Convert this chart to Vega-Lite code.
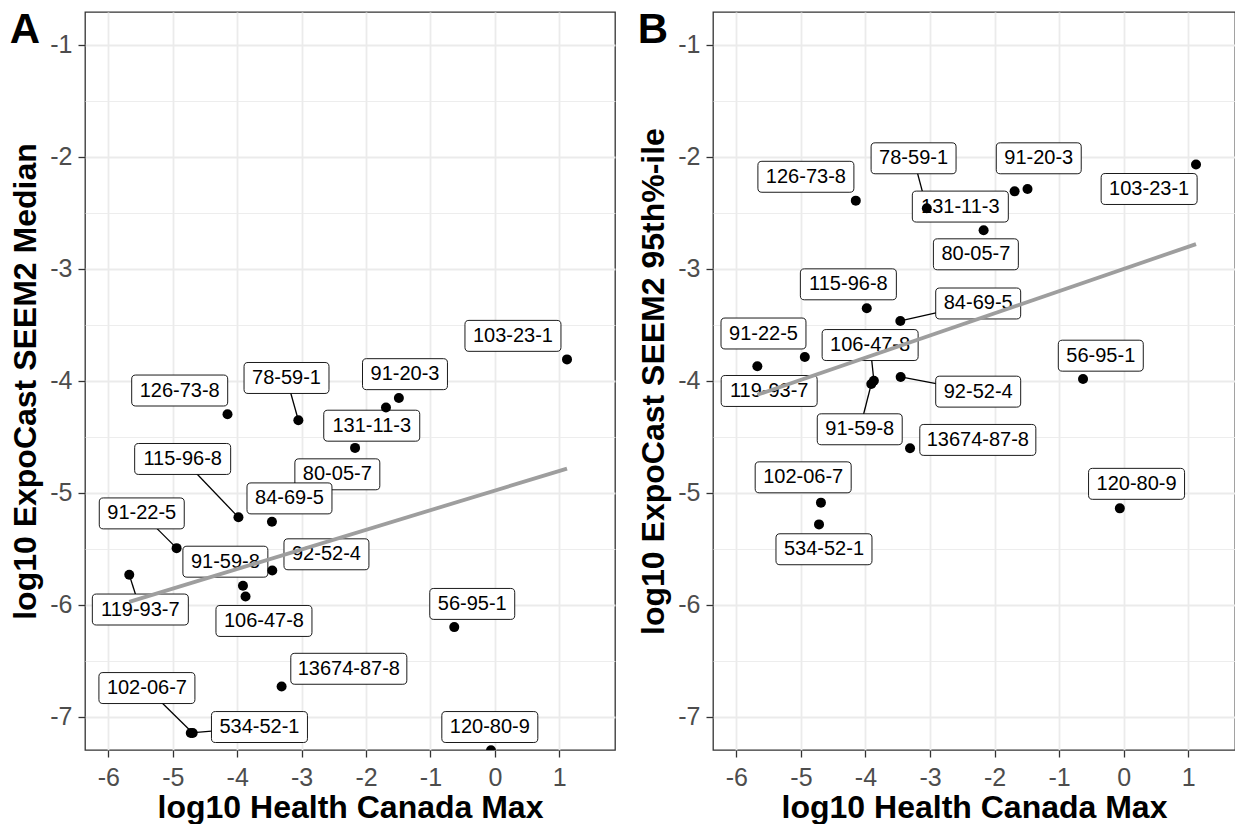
{
  "$schema": "https://vega.github.io/schema/vega-lite/v6.json",
  "background": "white",
  "padding": {"left": 9, "top": 8, "right": 0, "bottom": 0},
  "spacing": 21,
  "config": {
    "font": "Liberation Sans",
    "view": {"stroke": "#333333", "strokeWidth": 1.3},
    "axis": {
      "labelFont": "Liberation Sans",
      "labelFontSize": 25,
      "labelColor": "#4D4D4D",
      "titleFont": "Liberation Sans",
      "titleFontSize": 32,
      "titleFontWeight": "bold",
      "titleColor": "#000000",
      "domain": false,
      "tickColor": "#333333",
      "tickWidth": 1.3,
      "tickSize": 7,
      "gridColor": "#EBEBEB",
      "labelOverlap": false,
      "labelFlush": false
    },
    "axisX": {"labelPadding": 8, "titlePadding": 2},
    "axisY": {"labelPadding": 6, "titlePadding": 7},
    "title": {
      "font": "Liberation Sans",
      "fontSize": 42,
      "fontWeight": "bold",
      "color": "#000000",
      "anchor": "start",
      "frame": "bounds",
      "baseline": "alphabetic",
      "offset": 0,
      "dy": 44
    }
  },
  "data": {
    "values": [
      {"cas": "103-23-1", "hcMax": 1.12, "seemMedian": -3.81, "seem95": -2.07, "medLabelX": 0.281, "medLabelY": -3.6, "p95LabelX": 0.394, "p95LabelY": -2.289},
      {"cas": "91-20-3", "hcMax": -1.49, "seemMedian": -4.155, "seem95": -2.289, "medLabelX": -1.395, "medLabelY": -3.942, "p95LabelX": -1.316, "p95LabelY": -2.015},
      {"cas": "131-11-3", "hcMax": -1.69, "seemMedian": -4.24, "seem95": -2.31, "medLabelX": -1.911, "medLabelY": -4.402, "p95LabelX": -2.531, "p95LabelY": -2.446},
      {"cas": "126-73-8", "hcMax": -4.15, "seemMedian": -4.3, "seem95": -2.393, "medLabelX": -4.892, "medLabelY": -4.088, "p95LabelX": -4.923, "p95LabelY": -2.18},
      {"cas": "78-59-1", "hcMax": -3.05, "seemMedian": -4.353, "seem95": -2.461, "medLabelX": -3.234, "medLabelY": -3.976, "p95LabelX": -3.255, "p95LabelY": -2.015},
      {"cas": "80-05-7", "hcMax": -2.17, "seemMedian": -4.6, "seem95": -2.658, "medLabelX": -2.445, "medLabelY": -4.836, "p95LabelX": -2.29, "p95LabelY": -2.872},
      {"cas": "115-96-8", "hcMax": -3.98, "seemMedian": -5.22, "seem95": -3.354, "medLabelX": -4.846, "medLabelY": -4.699, "p95LabelX": -4.265, "p95LabelY": -3.14},
      {"cas": "84-69-5", "hcMax": -3.46, "seemMedian": -5.26, "seem95": -3.467, "medLabelX": -3.188, "medLabelY": -5.051, "p95LabelX": -2.254, "p95LabelY": -3.311},
      {"cas": "91-22-5", "hcMax": -4.94, "seemMedian": -5.495, "seem95": -3.789, "medLabelX": -5.481, "medLabelY": -5.185, "p95LabelX": -5.58, "p95LabelY": -3.579},
      {"cas": "119-93-7", "hcMax": -5.675, "seemMedian": -5.733, "seem95": -3.872, "medLabelX": -5.503, "medLabelY": -6.043, "p95LabelX": -5.492, "p95LabelY": -4.092},
      {"cas": "92-52-4", "hcMax": -3.455, "seemMedian": -5.695, "seem95": -3.967, "medLabelX": -2.614, "medLabelY": -5.55, "p95LabelX": -2.254, "p95LabelY": -4.098},
      {"cas": "56-95-1", "hcMax": -0.63, "seemMedian": -6.2, "seem95": -3.985, "medLabelX": -0.351, "medLabelY": -5.993, "p95LabelX": -0.355, "p95LabelY": -3.777},
      {"cas": "106-47-8", "hcMax": -3.87, "seemMedian": -5.927, "seem95": -4.0, "medLabelX": -3.584, "medLabelY": -6.145, "p95LabelX": -3.928, "p95LabelY": -3.682},
      {"cas": "91-59-8", "hcMax": -3.91, "seemMedian": -5.83, "seem95": -4.03, "medLabelX": -4.183, "medLabelY": -5.616, "p95LabelX": -4.089, "p95LabelY": -4.434},
      {"cas": "13674-87-8", "hcMax": -3.31, "seemMedian": -6.73, "seem95": -4.604, "medLabelX": -2.267, "medLabelY": -6.572, "p95LabelX": -2.26, "p95LabelY": -4.529},
      {"cas": "102-06-7", "hcMax": -4.69, "seemMedian": -7.145, "seem95": -5.089, "medLabelX": -5.401, "medLabelY": -6.744, "p95LabelX": -4.965, "p95LabelY": -4.863},
      {"cas": "534-52-1", "hcMax": -4.72, "seemMedian": -7.145, "seem95": -5.283, "medLabelX": -3.654, "medLabelY": -7.092, "p95LabelX": -4.643, "p95LabelY": -5.505},
      {"cas": "120-80-9", "hcMax": -0.06, "seemMedian": -7.3, "seem95": -5.14, "medLabelX": -0.078, "medLabelY": -7.092, "p95LabelX": 0.199, "p95LabelY": -4.921}
    ]
  },
  "hconcat": [
    {
      "title": "A",
      "width": 530,
      "height": 738,
      "layer": [
        {
          "transform": [{"filter": {"field": "cas", "oneOf": ["78-59-1", "115-96-8", "91-22-5", "119-93-7", "102-06-7", "534-52-1"]}}],
          "mark": {"type": "rule", "color": "black", "strokeWidth": 1.3},
          "encoding": {
            "x": {"field": "hcMax", "type": "quantitative", "title": "log10 Health Canada Max",
                  "scale": {"domain": [-6.362, 1.865], "nice": false, "zero": false},
                  "axis": {
                    "values": [-6, -5.5, -5, -4.5, -4, -3.5, -3, -2.5, -2, -1.5, -1, -0.5, 0, 0.5, 1, 1.5],
                    "labelExpr": "datum.value % 1 === 0 ? '' + datum.value : ''",
                    "tickOpacity": {"condition": {"test": "datum.value % 1 === 0", "value": 1}, "value": 0},
                    "gridWidth": {"condition": {"test": "datum.value % 1 === 0", "value": 1.8}, "value": 0.9}
                  }},
            "y": {"field": "seemMedian", "type": "quantitative", "title": "log10 ExpoCast SEEM2 Median",
                  "scale": {"domain": [-7.297, -0.709], "nice": false, "zero": false},
                  "axis": {
                    "values": [-7, -6.5, -6, -5.5, -5, -4.5, -4, -3.5, -3, -2.5, -2, -1.5, -1],
                    "labelExpr": "datum.value % 1 === 0 ? '' + datum.value : ''",
                    "tickOpacity": {"condition": {"test": "datum.value % 1 === 0", "value": 1}, "value": 0},
                    "gridWidth": {"condition": {"test": "datum.value % 1 === 0", "value": 1.8}, "value": 0.9}
                  }},
            "x2": {"field": "medLabelX"},
            "y2": {"field": "medLabelY"}
          }
        },
        {
          "mark": {"type": "point", "filled": true, "fill": "white", "stroke": "black", "strokeWidth": 0.9, "opacity": 1, "fillOpacity": 1, "strokeOpacity": 1, "size": 14400},
          "encoding": {
            "x": {"field": "medLabelX", "type": "quantitative", "title": "log10 Health Canada Max", "scale": {"domain": [-6.362, 1.865], "nice": false, "zero": false}},
            "y": {"field": "medLabelY", "type": "quantitative", "title": "log10 ExpoCast SEEM2 Median", "scale": {"domain": [-7.297, -0.709], "nice": false, "zero": false}},
            "shape": {"field": "cas", "type": "nominal", "legend": null,
              "scale": {
                "domain": ["103-23-1", "91-20-3", "131-11-3", "126-73-8", "78-59-1", "80-05-7", "115-96-8", "84-69-5", "91-22-5", "119-93-7", "92-52-4", "56-95-1", "106-47-8", "91-59-8", "13674-87-8", "102-06-7", "534-52-1", "120-80-9"],
                "range": [
                  "M-0.733,-0.258H0.733Q0.8,-0.258 0.8,-0.191V0.191Q0.8,0.258 0.733,0.258H-0.733Q-0.8,0.258 -0.8,0.191V-0.191Q-0.8,-0.258 -0.733,-0.258Z",
                  "M-0.641,-0.258H0.641Q0.708,-0.258 0.708,-0.191V0.191Q0.708,0.258 0.641,0.258H-0.641Q-0.708,0.258 -0.708,0.191V-0.191Q-0.708,-0.258 -0.641,-0.258Z",
                  "M-0.733,-0.258H0.733Q0.8,-0.258 0.8,-0.191V0.191Q0.8,0.258 0.733,0.258H-0.733Q-0.8,0.258 -0.8,0.191V-0.191Q-0.8,-0.258 -0.733,-0.258Z",
                  "M-0.733,-0.258H0.733Q0.8,-0.258 0.8,-0.191V0.191Q0.8,0.258 0.733,0.258H-0.733Q-0.8,0.258 -0.8,0.191V-0.191Q-0.8,-0.258 -0.733,-0.258Z",
                  "M-0.641,-0.258H0.641Q0.708,-0.258 0.708,-0.191V0.191Q0.708,0.258 0.641,0.258H-0.641Q-0.708,0.258 -0.708,0.191V-0.191Q-0.708,-0.258 -0.641,-0.258Z",
                  "M-0.641,-0.258H0.641Q0.708,-0.258 0.708,-0.191V0.191Q0.708,0.258 0.641,0.258H-0.641Q-0.708,0.258 -0.708,0.191V-0.191Q-0.708,-0.258 -0.641,-0.258Z",
                  "M-0.733,-0.258H0.733Q0.8,-0.258 0.8,-0.191V0.191Q0.8,0.258 0.733,0.258H-0.733Q-0.8,0.258 -0.8,0.191V-0.191Q-0.8,-0.258 -0.733,-0.258Z",
                  "M-0.641,-0.258H0.641Q0.708,-0.258 0.708,-0.191V0.191Q0.708,0.258 0.641,0.258H-0.641Q-0.708,0.258 -0.708,0.191V-0.191Q-0.708,-0.258 -0.641,-0.258Z",
                  "M-0.641,-0.258H0.641Q0.708,-0.258 0.708,-0.191V0.191Q0.708,0.258 0.641,0.258H-0.641Q-0.708,0.258 -0.708,0.191V-0.191Q-0.708,-0.258 -0.641,-0.258Z",
                  "M-0.733,-0.258H0.733Q0.8,-0.258 0.8,-0.191V0.191Q0.8,0.258 0.733,0.258H-0.733Q-0.8,0.258 -0.8,0.191V-0.191Q-0.8,-0.258 -0.733,-0.258Z",
                  "M-0.641,-0.258H0.641Q0.708,-0.258 0.708,-0.191V0.191Q0.708,0.258 0.641,0.258H-0.641Q-0.708,0.258 -0.708,0.191V-0.191Q-0.708,-0.258 -0.641,-0.258Z",
                  "M-0.641,-0.258H0.641Q0.708,-0.258 0.708,-0.191V0.191Q0.708,0.258 0.641,0.258H-0.641Q-0.708,0.258 -0.708,0.191V-0.191Q-0.708,-0.258 -0.641,-0.258Z",
                  "M-0.733,-0.258H0.733Q0.8,-0.258 0.8,-0.191V0.191Q0.8,0.258 0.733,0.258H-0.733Q-0.8,0.258 -0.8,0.191V-0.191Q-0.8,-0.258 -0.733,-0.258Z",
                  "M-0.641,-0.258H0.641Q0.708,-0.258 0.708,-0.191V0.191Q0.708,0.258 0.641,0.258H-0.641Q-0.708,0.258 -0.708,0.191V-0.191Q-0.708,-0.258 -0.641,-0.258Z",
                  "M-0.9,-0.258H0.9Q0.967,-0.258 0.967,-0.191V0.191Q0.967,0.258 0.9,0.258H-0.9Q-0.967,0.258 -0.967,0.191V-0.191Q-0.967,-0.258 -0.9,-0.258Z",
                  "M-0.733,-0.258H0.733Q0.8,-0.258 0.8,-0.191V0.191Q0.8,0.258 0.733,0.258H-0.733Q-0.8,0.258 -0.8,0.191V-0.191Q-0.8,-0.258 -0.733,-0.258Z",
                  "M-0.733,-0.258H0.733Q0.8,-0.258 0.8,-0.191V0.191Q0.8,0.258 0.733,0.258H-0.733Q-0.8,0.258 -0.8,0.191V-0.191Q-0.8,-0.258 -0.733,-0.258Z",
                  "M-0.733,-0.258H0.733Q0.8,-0.258 0.8,-0.191V0.191Q0.8,0.258 0.733,0.258H-0.733Q-0.8,0.258 -0.8,0.191V-0.191Q-0.8,-0.258 -0.733,-0.258Z"
                ]
              }}
          }
        },
        {
          "mark": {"type": "text", "font": "Liberation Sans", "fontSize": 20, "color": "black", "align": "center", "baseline": "middle"},
          "encoding": {
            "x": {"field": "medLabelX", "type": "quantitative", "title": "log10 Health Canada Max", "scale": {"domain": [-6.362, 1.865], "nice": false, "zero": false}},
            "y": {"field": "medLabelY", "type": "quantitative", "title": "log10 ExpoCast SEEM2 Median", "scale": {"domain": [-7.297, -0.709], "nice": false, "zero": false}},
            "text": {"field": "cas"}
          }
        },
        {
          "mark": {"type": "circle", "size": 100, "color": "black", "opacity": 1, "clip": true},
          "encoding": {
            "x": {"field": "hcMax", "type": "quantitative", "title": "log10 Health Canada Max", "scale": {"domain": [-6.362, 1.865], "nice": false, "zero": false}},
            "y": {"field": "seemMedian", "type": "quantitative", "title": "log10 ExpoCast SEEM2 Median", "scale": {"domain": [-7.297, -0.709], "nice": false, "zero": false}}
          }
        },
        {
          "transform": [{"regression": "seemMedian", "on": "hcMax"}],
          "mark": {"type": "line", "color": "#9E9E9E", "strokeWidth": 3.8},
          "encoding": {
            "x": {"field": "hcMax", "type": "quantitative", "title": "log10 Health Canada Max", "scale": {"domain": [-6.362, 1.865], "nice": false, "zero": false}},
            "y": {"field": "seemMedian", "type": "quantitative", "title": "log10 ExpoCast SEEM2 Median", "scale": {"domain": [-7.297, -0.709], "nice": false, "zero": false}}
          }
        }
      ]
    },
    {
      "title": "B",
      "width": 522,
      "height": 738,
      "layer": [
        {
          "transform": [{"filter": {"field": "cas", "oneOf": ["78-59-1", "84-69-5", "92-52-4", "106-47-8", "91-59-8"]}}],
          "mark": {"type": "rule", "color": "black", "strokeWidth": 1.3},
          "encoding": {
            "x": {"field": "hcMax", "type": "quantitative", "title": "log10 Health Canada Max",
                  "scale": {"domain": [-6.362, 1.724], "nice": false, "zero": false},
                  "axis": {
                    "values": [-6, -5.5, -5, -4.5, -4, -3.5, -3, -2.5, -2, -1.5, -1, -0.5, 0, 0.5, 1, 1.5],
                    "labelExpr": "datum.value % 1 === 0 ? '' + datum.value : ''",
                    "tickOpacity": {"condition": {"test": "datum.value % 1 === 0", "value": 1}, "value": 0},
                    "gridWidth": {"condition": {"test": "datum.value % 1 === 0", "value": 1.8}, "value": 0.9}
                  }},
            "y": {"field": "seem95", "type": "quantitative", "title": "log10 ExpoCast SEEM2 95th%-ile",
                  "scale": {"domain": [-7.297, -0.709], "nice": false, "zero": false},
                  "axis": {
                    "values": [-7, -6.5, -6, -5.5, -5, -4.5, -4, -3.5, -3, -2.5, -2, -1.5, -1],
                    "labelExpr": "datum.value % 1 === 0 ? '' + datum.value : ''",
                    "tickOpacity": {"condition": {"test": "datum.value % 1 === 0", "value": 1}, "value": 0},
                    "gridWidth": {"condition": {"test": "datum.value % 1 === 0", "value": 1.8}, "value": 0.9}
                  }},
            "x2": {"field": "p95LabelX"},
            "y2": {"field": "p95LabelY"}
          }
        },
        {
          "mark": {"type": "point", "filled": true, "fill": "white", "stroke": "black", "strokeWidth": 0.9, "opacity": 1, "fillOpacity": 1, "strokeOpacity": 1, "size": 14400},
          "encoding": {
            "x": {"field": "p95LabelX", "type": "quantitative", "title": "log10 Health Canada Max", "scale": {"domain": [-6.362, 1.724], "nice": false, "zero": false}},
            "y": {"field": "p95LabelY", "type": "quantitative", "title": "log10 ExpoCast SEEM2 95th%-ile", "scale": {"domain": [-7.297, -0.709], "nice": false, "zero": false}},
            "shape": {"field": "cas", "type": "nominal", "legend": null,
              "scale": {
                "domain": ["103-23-1", "91-20-3", "131-11-3", "126-73-8", "78-59-1", "80-05-7", "115-96-8", "84-69-5", "91-22-5", "119-93-7", "92-52-4", "56-95-1", "106-47-8", "91-59-8", "13674-87-8", "102-06-7", "534-52-1", "120-80-9"],
                "range": [
                  "M-0.733,-0.258H0.733Q0.8,-0.258 0.8,-0.191V0.191Q0.8,0.258 0.733,0.258H-0.733Q-0.8,0.258 -0.8,0.191V-0.191Q-0.8,-0.258 -0.733,-0.258Z",
                  "M-0.641,-0.258H0.641Q0.708,-0.258 0.708,-0.191V0.191Q0.708,0.258 0.641,0.258H-0.641Q-0.708,0.258 -0.708,0.191V-0.191Q-0.708,-0.258 -0.641,-0.258Z",
                  "M-0.733,-0.258H0.733Q0.8,-0.258 0.8,-0.191V0.191Q0.8,0.258 0.733,0.258H-0.733Q-0.8,0.258 -0.8,0.191V-0.191Q-0.8,-0.258 -0.733,-0.258Z",
                  "M-0.733,-0.258H0.733Q0.8,-0.258 0.8,-0.191V0.191Q0.8,0.258 0.733,0.258H-0.733Q-0.8,0.258 -0.8,0.191V-0.191Q-0.8,-0.258 -0.733,-0.258Z",
                  "M-0.641,-0.258H0.641Q0.708,-0.258 0.708,-0.191V0.191Q0.708,0.258 0.641,0.258H-0.641Q-0.708,0.258 -0.708,0.191V-0.191Q-0.708,-0.258 -0.641,-0.258Z",
                  "M-0.641,-0.258H0.641Q0.708,-0.258 0.708,-0.191V0.191Q0.708,0.258 0.641,0.258H-0.641Q-0.708,0.258 -0.708,0.191V-0.191Q-0.708,-0.258 -0.641,-0.258Z",
                  "M-0.733,-0.258H0.733Q0.8,-0.258 0.8,-0.191V0.191Q0.8,0.258 0.733,0.258H-0.733Q-0.8,0.258 -0.8,0.191V-0.191Q-0.8,-0.258 -0.733,-0.258Z",
                  "M-0.641,-0.258H0.641Q0.708,-0.258 0.708,-0.191V0.191Q0.708,0.258 0.641,0.258H-0.641Q-0.708,0.258 -0.708,0.191V-0.191Q-0.708,-0.258 -0.641,-0.258Z",
                  "M-0.641,-0.258H0.641Q0.708,-0.258 0.708,-0.191V0.191Q0.708,0.258 0.641,0.258H-0.641Q-0.708,0.258 -0.708,0.191V-0.191Q-0.708,-0.258 -0.641,-0.258Z",
                  "M-0.733,-0.258H0.733Q0.8,-0.258 0.8,-0.191V0.191Q0.8,0.258 0.733,0.258H-0.733Q-0.8,0.258 -0.8,0.191V-0.191Q-0.8,-0.258 -0.733,-0.258Z",
                  "M-0.641,-0.258H0.641Q0.708,-0.258 0.708,-0.191V0.191Q0.708,0.258 0.641,0.258H-0.641Q-0.708,0.258 -0.708,0.191V-0.191Q-0.708,-0.258 -0.641,-0.258Z",
                  "M-0.641,-0.258H0.641Q0.708,-0.258 0.708,-0.191V0.191Q0.708,0.258 0.641,0.258H-0.641Q-0.708,0.258 -0.708,0.191V-0.191Q-0.708,-0.258 -0.641,-0.258Z",
                  "M-0.733,-0.258H0.733Q0.8,-0.258 0.8,-0.191V0.191Q0.8,0.258 0.733,0.258H-0.733Q-0.8,0.258 -0.8,0.191V-0.191Q-0.8,-0.258 -0.733,-0.258Z",
                  "M-0.641,-0.258H0.641Q0.708,-0.258 0.708,-0.191V0.191Q0.708,0.258 0.641,0.258H-0.641Q-0.708,0.258 -0.708,0.191V-0.191Q-0.708,-0.258 -0.641,-0.258Z",
                  "M-0.9,-0.258H0.9Q0.967,-0.258 0.967,-0.191V0.191Q0.967,0.258 0.9,0.258H-0.9Q-0.967,0.258 -0.967,0.191V-0.191Q-0.967,-0.258 -0.9,-0.258Z",
                  "M-0.733,-0.258H0.733Q0.8,-0.258 0.8,-0.191V0.191Q0.8,0.258 0.733,0.258H-0.733Q-0.8,0.258 -0.8,0.191V-0.191Q-0.8,-0.258 -0.733,-0.258Z",
                  "M-0.733,-0.258H0.733Q0.8,-0.258 0.8,-0.191V0.191Q0.8,0.258 0.733,0.258H-0.733Q-0.8,0.258 -0.8,0.191V-0.191Q-0.8,-0.258 -0.733,-0.258Z",
                  "M-0.733,-0.258H0.733Q0.8,-0.258 0.8,-0.191V0.191Q0.8,0.258 0.733,0.258H-0.733Q-0.8,0.258 -0.8,0.191V-0.191Q-0.8,-0.258 -0.733,-0.258Z"
                ]
              }}
          }
        },
        {
          "mark": {"type": "text", "font": "Liberation Sans", "fontSize": 20, "color": "black", "align": "center", "baseline": "middle"},
          "encoding": {
            "x": {"field": "p95LabelX", "type": "quantitative", "title": "log10 Health Canada Max", "scale": {"domain": [-6.362, 1.724], "nice": false, "zero": false}},
            "y": {"field": "p95LabelY", "type": "quantitative", "title": "log10 ExpoCast SEEM2 95th%-ile", "scale": {"domain": [-7.297, -0.709], "nice": false, "zero": false}},
            "text": {"field": "cas"}
          }
        },
        {
          "mark": {"type": "circle", "size": 100, "color": "black", "opacity": 1, "clip": true},
          "encoding": {
            "x": {"field": "hcMax", "type": "quantitative", "title": "log10 Health Canada Max", "scale": {"domain": [-6.362, 1.724], "nice": false, "zero": false}},
            "y": {"field": "seem95", "type": "quantitative", "title": "log10 ExpoCast SEEM2 95th%-ile", "scale": {"domain": [-7.297, -0.709], "nice": false, "zero": false}}
          }
        },
        {
          "transform": [{"regression": "seem95", "on": "hcMax"}],
          "mark": {"type": "line", "color": "#9E9E9E", "strokeWidth": 3.8},
          "encoding": {
            "x": {"field": "hcMax", "type": "quantitative", "title": "log10 Health Canada Max", "scale": {"domain": [-6.362, 1.724], "nice": false, "zero": false}},
            "y": {"field": "seem95", "type": "quantitative", "title": "log10 ExpoCast SEEM2 95th%-ile", "scale": {"domain": [-7.297, -0.709], "nice": false, "zero": false}}
          }
        }
      ]
    }
  ]
}
